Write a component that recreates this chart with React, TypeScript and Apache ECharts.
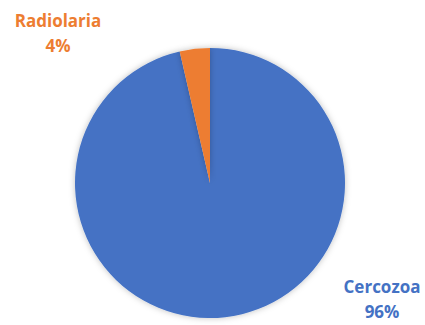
import React, { useEffect, useRef } from "react";
import * as echarts from "echarts";

const categories = ["Cercozoa", "Radiolaria"];
const values = [96.4, 3.6];
const colors = ["#4472C4", "#ED7D31"];

export default function App() {
  const ref = useRef<HTMLDivElement>(null);
  useEffect(() => {
    if (!ref.current) return;
    const chart = echarts.init(ref.current, null, { renderer: "svg" });
    chart.setOption({
      animation: false,
      backgroundColor: "#ffffff",
      series: [
        {
          type: "pie",
          center: [210, 183],
          radius: 135,
          startAngle: 90,
          clockwise: true,
          data: categories.map((name, i) => ({
            name,
            value: values[i],
            itemStyle: { color: colors[i] },
            label: { color: colors[i] },
          })),
          itemStyle: {
            borderWidth: 0,
            shadowBlur: 6,
            shadowColor: "rgba(0,0,0,0.25)",
          },
          label: {
            show: true,
            position: "outside",
            formatter: (p: any) => `${p.name}\n${Math.round(p.percent)}%`,
            fontFamily: "Open Sans, Noto Sans, sans-serif",
            fontWeight: "bold",
            fontSize: 17,
            lineHeight: 25,
            align: "center",
          },
          labelLine: { show: false },
          labelLayout: (params: any) => {
            if (params.dataIndex === 0) {
              return { x: 382, y: 299, align: "center", verticalAlign: "middle" };
            }
            return { x: 58, y: 33, align: "center", verticalAlign: "middle" };
          },
        },
      ],
    });
    return () => chart.dispose();
  }, []);
  return (
    <div
      ref={ref}
      style={{ position: "fixed", left: 0, top: 0, width: 425, height: 325 }}
    />
  );
}
